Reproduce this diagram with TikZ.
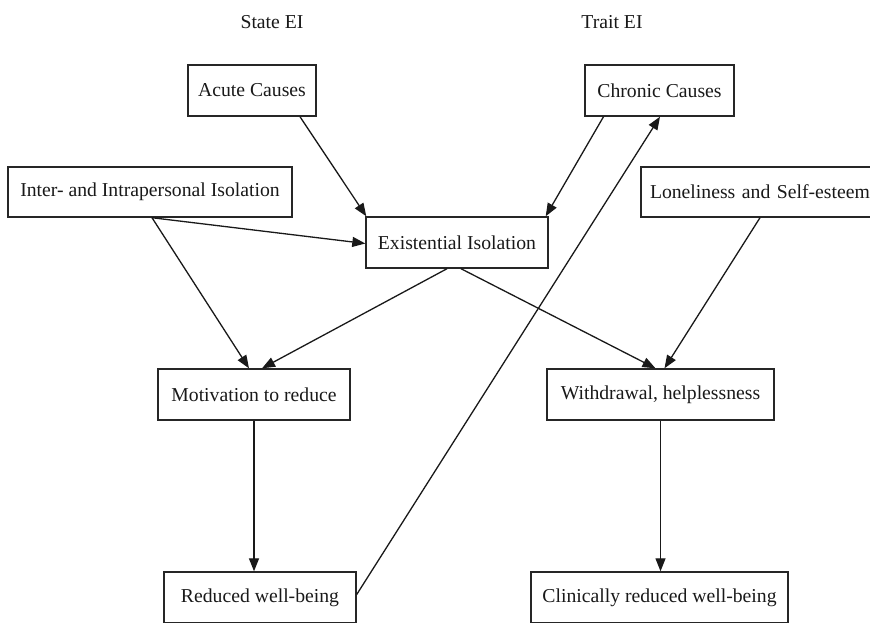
\documentclass[tikz,border=0pt]{standalone}
\usepackage{fontspec}
\setmainfont{Liberation Serif}
\usetikzlibrary{arrows.meta}
\begin{document}
\begin{tikzpicture}[x=1pt,y=-1pt,
  box/.style={draw=black!85,line width=1.4pt,minimum height=51pt,inner sep=0pt,font=\fontsize{19.7}{22}\selectfont,text=black!90},
  lbl/.style={font=\fontsize{19.7}{22}\selectfont,text=black!90},
  arr/.style={line width=1.3pt,draw=black!90,-{Triangle[length=13pt,width=10pt]}}]
\useasboundingbox (0,0) rectangle (870,622);
\clip (0,0) rectangle (870,622);
\node[lbl] (state) at (272,22) {State EI};
\node[lbl] (trait) at (612,22) {Trait EI};
\node[box,minimum width=128pt] (acute) at (252,90.5) {Acute Causes};
\node[box,minimum width=149pt] (chronic) at (659.5,90.5) {Chronic Causes};
\node[box,minimum width=284pt,minimum height=50pt] (inter) at (150,192) {Inter- and Intrapersonal Isolation};
\node[box,minimum width=280pt,minimum height=50pt,text width=262pt,align=left] (lone) at (781,192) {Loneliness and Self-esteem};
\node[box,minimum width=182pt] (exist) at (457,242.5) {Existential Isolation};
\node[box,minimum width=192pt] (motiv) at (254,394.5) {Motivation to reduce};
\node[box,minimum width=227pt] (withd) at (660.5,394.5) {Withdrawal, helplessness};
\node[box,minimum width=192pt] (reduc) at (260,597.5) {Reduced well-being};
\node[box,minimum width=257pt] (clin) at (659.5,597.5) {Clinically reduced well-being};
\coordinate (ia) at ([xshift=2pt]inter.south);
\draw[arr] ([xshift=48pt]acute.south) -- ([xshift=1pt]exist.north west);
\draw[arr] ([xshift=-56pt]chronic.south) -- ([xshift=-3pt]exist.north east);
\draw[arr] (ia) -- ([yshift=-1pt]exist.west);
\draw[arr] (ia) -- ([xshift=-5pt]motiv.north);
\draw[arr] ([xshift=-10pt]exist.south) -- ([xshift=8pt]motiv.north);
\draw[arr] ([xshift=4pt]exist.south) -- ([xshift=-5pt]withd.north);
\draw[arr] (lone.south -| 760,0) -- ([xshift=4pt]withd.north);
\draw[arr] (motiv.south) -- (reduc.north -| motiv.south);
\draw[arr] (withd.south) -- (clin.north -| withd.south);
\draw[arr] ([yshift=3pt]reduc.east) -- ([xshift=0.5pt]chronic.south);
\end{tikzpicture}
\end{document}
